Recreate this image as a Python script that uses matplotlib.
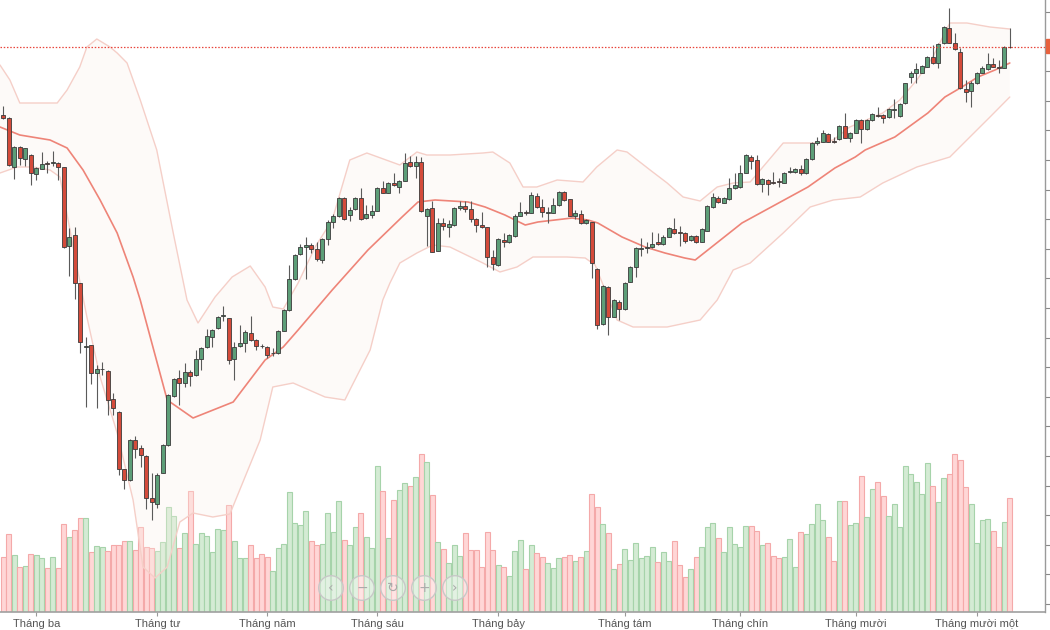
import numpy as np
import matplotlib
matplotlib.use("Agg")
import matplotlib.pyplot as plt
from matplotlib.ticker import MultipleLocator
from matplotlib.patches import Circle, Rectangle

# ---------------- data ----------------
opens = [933.5, 930, 881.3, 901.3, 888.7, 893, 874, 879.5, 885, 884.7, 885.3, 880.7, 802, 812.7, 764.7, 701.3,
         703, 675.3, 678.7, 677.3, 649, 636.3, 578.7, 568, 608, 599.7, 592, 549.7, 544, 575.3, 603, 652,
         669.7, 665.3, 675.7, 673, 688.7, 700.7, 711.3, 719.7, 732, 729.7, 688.7, 702, 704.7, 715, 708, 702.3,
         701.3, 694.7, 695, 717.3, 738, 768.7, 794, 800.7, 803.3, 798.7, 788, 808.7, 826.3, 832, 850.3, 833,
         838.7, 850.3, 829.7, 833, 837.3, 860.3, 855.3, 864.7, 861.3, 867.3, 885.7, 882, 886.3, 832, 839.7, 797.3,
         825.3, 821.3, 823, 839.7, 842, 838.7, 829, 823, 820.7, 790.7, 783, 808.5, 806.3, 812, 832.3, 836,
         835.3, 852, 840.7, 835.3, 835.3, 843, 855.7, 848.7, 832.3, 834, 824.7, 825.7, 778.7, 724, 761.3, 731.3,
         746.3, 738.7, 766.3, 780.7, 799, 799.7, 800.7, 805.7, 804, 811.3, 819, 815.5, 815.3, 808, 812, 806.3,
         817.3, 840.7, 850.3, 845.3, 848.7, 859.7, 861.3, 875.3, 891.3, 888, 864, 868, 866.3, 866.7, 865.3, 875.7,
         876, 878.7, 874.7, 888.7, 904.7, 906.3, 914, 906.5, 908.7, 922, 909.7, 915.3, 928, 918.7, 928, 933,
         933, 930.7, 937.7, 932, 944.7, 970.7, 975.3, 975.3, 981.3, 990.7, 984.7, 1004.7, 1020.3, 1005.3, 996.3, 958.7,
         957.3, 964.7, 975.3, 978.7, 984, 981.3, 980.3, 1001.3]
closes = [930, 883, 901.3, 889.7, 899.7, 874.7, 880.3, 884, 884.5, 885.7, 881.3, 801.3, 811.5, 765.3, 706.3, 702.5,
          675.3, 678.7, 679.3, 648, 639.7, 578.7, 568, 608, 599, 593, 549.7, 546.3, 573, 603, 653, 668.7,
          665.3, 676.3, 672, 688.7, 699.7, 712.3, 718, 731, 732.5, 688, 700.7, 705.3, 716.3, 708, 702, 701.7,
          693, 695.3, 717, 738, 768.7, 793, 801.3, 803, 798.7, 788.7, 808.7, 826.3, 832, 850.3, 828.7, 838,
          850.3, 828.7, 834, 837, 859.7, 855.3, 864.7, 863, 867, 885.3, 882, 886.3, 837.3, 839, 796.3, 825.3,
          822, 824, 839.7, 842, 838.7, 829, 823, 820.7, 790.7, 784, 808.7, 806.5, 813, 832.3, 835.7, 835,
          853, 840.7, 835.7, 835.7, 843, 856.3, 848, 832.3, 834.7, 824.7, 828, 785.3, 723, 762, 730.7, 748,
          738.7, 764.7, 780.7, 799.7, 800.3, 800.7, 804, 803.7, 810.7, 819.7, 814.7, 815, 807.3, 812, 806.3, 818.7,
          842, 850.7, 845.7, 849.7, 860.3, 863, 875.3, 893, 887.3, 864, 868.7, 864, 864.7, 866, 875.3, 877,
          878.7, 874.7, 888.7, 905.3, 907.3, 914.7, 906.3, 906, 922, 910.3, 914.7, 928, 918.7, 928, 933.7, 932.5,
          930, 938.7, 938.7, 944, 964.7, 975.3, 978.7, 982, 990.7, 984.7, 1003.7, 1021.3, 1005.3, 998.7, 959.7, 956.3,
          964.7, 975.3, 979.7, 984, 981.3, 979.7, 1001.3, 1000.7]
highs = [942, 931, 902, 902, 900.5, 894, 881, 896.3, 887, 897, 886, 881, 820, 821.5, 765, 711.3,
         703, 683, 686.3, 678, 654.7, 637, 579, 609, 612, 603, 593, 574.7, 575, 604, 654, 670,
         678, 685, 678, 698, 701, 718.7, 719, 732, 742, 730, 706, 723, 718, 732.5, 709, 704,
         702, 699.7, 718, 739, 783, 794, 804, 810.7, 805, 806.3, 810, 828, 834, 851, 851, 841.3,
         851, 859.7, 843, 843, 861, 867.3, 866, 874.7, 868, 894.7, 892, 892, 891.3, 840, 847, 829.7,
         829.7, 828, 841, 847, 847, 847, 830, 836.3, 821, 798, 810, 814.7, 814, 834, 846.3, 838,
         856.3, 855.3, 848.7, 841.3, 849.7, 857.5, 857, 849, 838, 838, 829, 826, 780, 763, 762, 749,
         748, 766, 782, 801, 809.7, 806.3, 816.3, 814.7, 813, 821, 829.7, 822, 816, 813, 813, 820,
         843, 855.3, 852, 851, 869.7, 874.7, 883, 894, 893, 893, 870, 869, 876.3, 869.7, 876, 880.7,
         880, 883, 890, 906.3, 910.7, 918, 915, 911.3, 923, 934.7, 916, 929, 929, 929, 935, 941,
         934, 940, 949, 945, 965.5, 977, 984.7, 983, 992, 1003, 1005, 1022, 1039.7, 1015.3, 999.7, 968,
         967, 976, 982, 995.3, 990, 988, 1002, 1019.7]
lows = [929.5, 882, 869, 883, 882, 863, 868, 879, 875, 882, 868, 800, 772, 749, 695, 641.3,
        664, 640, 673, 633, 633, 573, 558.7, 567.5, 590, 581, 538.7, 528, 540, 575, 602, 651.5,
        643, 661.3, 662, 672, 678, 700, 701.3, 719, 727, 684, 668, 701, 696, 707, 698, 699.7,
        689.7, 692, 694, 717, 737, 768, 793, 768.7, 795, 787, 784.7, 803, 820, 831, 828, 827.3,
        838, 828, 829, 829.7, 837, 855, 855, 862, 855.3, 867, 881, 869.7, 836, 802, 796, 797,
        818, 811.3, 822, 838, 836, 826.3, 816.3, 820, 781.3, 778, 782, 800.7, 805, 811, 832, 833,
        835, 840, 831.3, 824.7, 835, 842, 847, 832, 828.7, 824, 824, 769.7, 718.7, 723, 713, 731,
        728, 738, 766, 771.3, 792, 794.7, 800, 803, 803, 811, 814, 802, 805.3, 807, 805.3, 806,
        817, 840, 845, 845, 848, 859, 860, 875, 878.7, 863, 856.3, 853, 864, 861.3, 865, 875,
        875, 873, 874, 888, 903, 906, 906, 905, 908, 910, 906.3, 915, 904.7, 918, 927, 931,
        925, 930, 930, 931, 944, 965.3, 965.3, 975, 981, 984, 979.7, 1004, 1005, 998, 959, 946.3,
        940.7, 964, 975, 978, 981, 975.3, 980, 1000.3]
volumes = [278, 392, 287, 228, 231, 292, 287, 270, 223, 278, 223, 442, 375, 412, 470, 470,
           303, 332, 325, 308, 337, 337, 358, 358, 312, 425, 328, 320, 308, 350, 525, 482,
           320, 395, 608, 340, 395, 382, 303, 415, 412, 537, 358, 270, 270, 337, 270, 292,
           275, 208, 320, 342, 603, 448, 437, 508, 358, 337, 342, 495, 403, 558, 360, 337,
           425, 495, 378, 320, 732, 608, 370, 562, 612, 645, 632, 675, 792, 753, 587, 350,
           315, 245, 337, 282, 395, 312, 312, 225, 403, 312, 236, 228, 181, 308, 362, 215,
           337, 295, 275, 248, 223, 270, 278, 287, 258, 275, 308, 592, 525, 442, 398, 215,
           242, 315, 262, 348, 270, 282, 328, 250, 300, 258, 358, 236, 175, 215, 275, 325,
           425, 445, 370, 300, 425, 342, 328, 433, 432, 408, 337, 345, 282, 270, 275, 365,
           228, 403, 392, 440, 542, 462, 375, 257, 558, 558, 437, 445, 683, 475, 615, 650,
           582, 482, 540, 428, 733, 692, 650, 592, 748, 632, 553, 673, 692, 790, 762, 628,
           540, 345, 462, 465, 408, 328, 453, 570]

# Bollinger band readings (candle position, price)
upper_pos = [-0.6, 1.2, 3.0, 5.4, 9.8, 11.6, 13.9, 15.2, 17.0, 19.4, 20.7, 22.5, 24.9, 27.9, 30.9, 33.4,
             35.4, 38.5, 41.6, 44.9, 47.6, 49.0, 50.9, 53.6, 56.7, 59.8, 63.0, 66.1, 72.1, 75.2, 77.0, 81.2,
             87.2, 89.0, 92.1, 94.5, 97.0, 100.7, 105.4, 107.9, 111.6, 113.4, 117.6, 120.7, 123.6, 126.7, 129.8,
             132.7, 135.8, 141.8, 144.9, 147.9, 150.9, 153.9, 159.9, 163.0, 166.1, 169.0, 172.1, 175.2, 179.4, 183.0]
upper_val = [983, 968, 945, 945, 945, 958, 981, 1001, 1009, 1001, 995, 985, 948, 898, 815, 748,
             725, 751, 771, 782, 761, 741, 739, 765, 801, 828, 888, 895, 883, 896, 893, 893,
             895, 896, 885, 861, 861, 868, 866, 881, 898, 896, 878, 865, 851, 847, 861,
             865, 866, 905, 905, 905, 908, 921, 935, 948, 968, 991, 1025, 1025, 1021, 1019]
middle_pos = [-0.6, 3.0, 8.5, 11.6, 14.5, 17.6, 20.7, 23.6, 24.9, 29.8, 34.5, 41.8, 47.6, 50.9, 53.6, 59.8,
              66.3, 72.5, 75.4, 78.5, 84.5, 87.6, 91.2, 94.9, 97.2, 103.4, 106.3, 108.1, 112.5, 116.7, 120.3,
              123.9, 125.8, 128.1, 134.3, 140.3, 146.3, 151.2, 154.9, 156.7, 162.1, 168.1, 171.2, 174.3, 177.2,
              180.3, 183.0]
middle_val = [921, 913, 908, 900, 878, 848, 815, 771, 748, 648, 630, 646, 688, 701, 718, 758,
              798, 831, 846, 848, 846, 841, 833, 823, 826, 830, 828, 825, 811, 801, 795,
              790, 788, 798, 825, 843, 861, 880, 891, 898, 911, 935, 951, 961, 971,
              978, 985]
lower_pos = [-0.6, 2.5, 5.4, 8.5, 10.3, 13.4, 15.2, 17.6, 20.7, 23.6, 25.4, 27.6, 29.8, 32.1, 34.5, 38.1,
             41.2, 46.7, 49.0, 52.7, 58.5, 62.1, 63.0, 66.7, 69.0, 70.3, 72.1, 75.2, 78.1, 81.2, 87.2, 90.3,
             93.4, 96.3, 102.5, 105.8, 107.6, 111.6, 114.5, 120.7, 126.7, 129.8, 132.7, 135.8, 141.8, 146.7,
             150.9, 155.8, 159.9, 166.1, 172.1, 175.2, 179.4, 183.0]
lower_val = [875, 881, 881, 878, 871, 781, 731, 671, 615, 548, 481, 470, 481, 526, 535, 531,
             534, 608, 661, 665, 651, 648, 658, 698, 748, 765, 785, 795, 803, 801, 785, 776,
             781, 791, 791, 790, 783, 728, 721, 721, 728, 748, 778, 785, 815, 841,
             848, 851, 865, 881, 891, 908, 931, 951]

month_pos = [6, 28, 48, 68, 90, 113, 134, 155, 177]
month_labels = ["Tháng ba", "Tháng tư", "Tháng năm", "Tháng sáu", "Tháng bảy",
                "Tháng tám", "Tháng chín", "Tháng mười", "Tháng mười một"]

# ---------------- figure ----------------
W, H = 1050, 630
fig = plt.figure(figsize=(W / 100, H / 100), dpi=100)
fig.patch.set_facecolor("white")
plt.rcParams["font.family"] = ["Liberation Sans", "DejaVu Sans"]

left, right_px, bottom_px = 0, 1045, 612.3
axv = fig.add_axes([left / W, (H - bottom_px) / H, (right_px - left) / W, bottom_px / H])
ax = axv.twinx()

n = len(opens)
x = np.arange(n)
o = np.array(opens); c = np.array(closes); h = np.array(highs); l = np.array(lows)
up = c >= o

# volume
vcol = np.where(up, "#d4ebd4", "#ffd6d6")
vedge = np.where(up, "#a6d3aa", "#f4a9a9")
axv.bar(x, volumes, width=0.92, color=vcol, edgecolor=vedge, linewidth=0.8, zorder=1)
axv.set_ylim(0, bottom_px * 5)
axv.set_xlim(-0.6, (right_px - 3.3) / 5.5)
axv.set_yticks([])
for s in ["top", "left", "right"]:
    axv.spines[s].set_visible(False)
axv.spines["bottom"].set_color("#a0a0a0")
axv.spines["bottom"].set_linewidth(1.2)
axv.set_xticks(month_pos)
axv.set_xticklabels(month_labels, fontsize=8, color="#555555")
axv.tick_params(axis="x", length=3, width=0.8, color="#999999", pad=1.5)

# bollinger
poly_x = list(upper_pos) + list(lower_pos[::-1])
poly_y = list(upper_val) + list(lower_val[::-1])
ax.fill(poly_x, poly_y, color="#fbf1e8", alpha=0.3, lw=0, zorder=1)
kw = dict(solid_joinstyle="round", solid_capstyle="round")
ax.plot(upper_pos, upper_val, color="#f5cfc8", lw=1.0, zorder=2, **kw)
ax.plot(lower_pos, lower_val, color="#f5cfc8", lw=1.0, zorder=2, **kw)
ax.plot(middle_pos, middle_val, color="#ee8478", lw=1.2, zorder=2, **kw)

# candles
ax.vlines(x, l, h, color="#5a5a5a", lw=0.8, zorder=3)
body_b = np.minimum(o, c)
body_h = np.maximum(np.abs(c - o), 0.8)
ax.bar(x, body_h, bottom=body_b, width=0.74,
       color=np.where(up, "#5d9e78", "#d44b3b"), edgecolor="#3a3a3a",
       linewidth=0.6, zorder=4)

# last price line
ax.axhline(closes[-1], color="#e8463c", lw=0.9, ls=(0, (1.2, 1.4)), zorder=5)

ax.set_ylim(1048 - bottom_px, 1048)
ax.yaxis.set_major_locator(MultipleLocator(29.6))
ax.tick_params(axis="y", length=4, width=0.8, color="#888888", labelright=False, direction="out")
for s in ["top", "left", "bottom"]:
    ax.spines[s].set_visible(False)
ax.spines["right"].set_color("#9a9a9a")
ax.spines["right"].set_linewidth(1.0)

# red price tag at right edge
fig.add_artist(Rectangle((10.46, (H - 53) / 100), 0.05, 0.14, transform=fig.dpi_scale_trans,
                         color="#e8623e", clip_on=False, zorder=10))

# navigator buttons
btn_x = [331, 362, 393, 424, 455]
btn_sym = ["‹", "−", "↻", "+", "›"]
for bx, sym in zip(btn_x, btn_sym):
    cx, cy = bx / 100, (H - 588) / 100
    fig.add_artist(Circle((cx, cy), 0.123, transform=fig.dpi_scale_trans,
                          facecolor=(1, 1, 1, 0.35), edgecolor="#c8c8c8", lw=1.0, zorder=11))
    fig.text(cx / (W / 100), cy / (H / 100), sym, ha="center", va="center",
             fontsize=10, color="#aaaaaa", family=["DejaVu Sans"], zorder=12)

fig.savefig("out.png", dpi=100, facecolor="white")
